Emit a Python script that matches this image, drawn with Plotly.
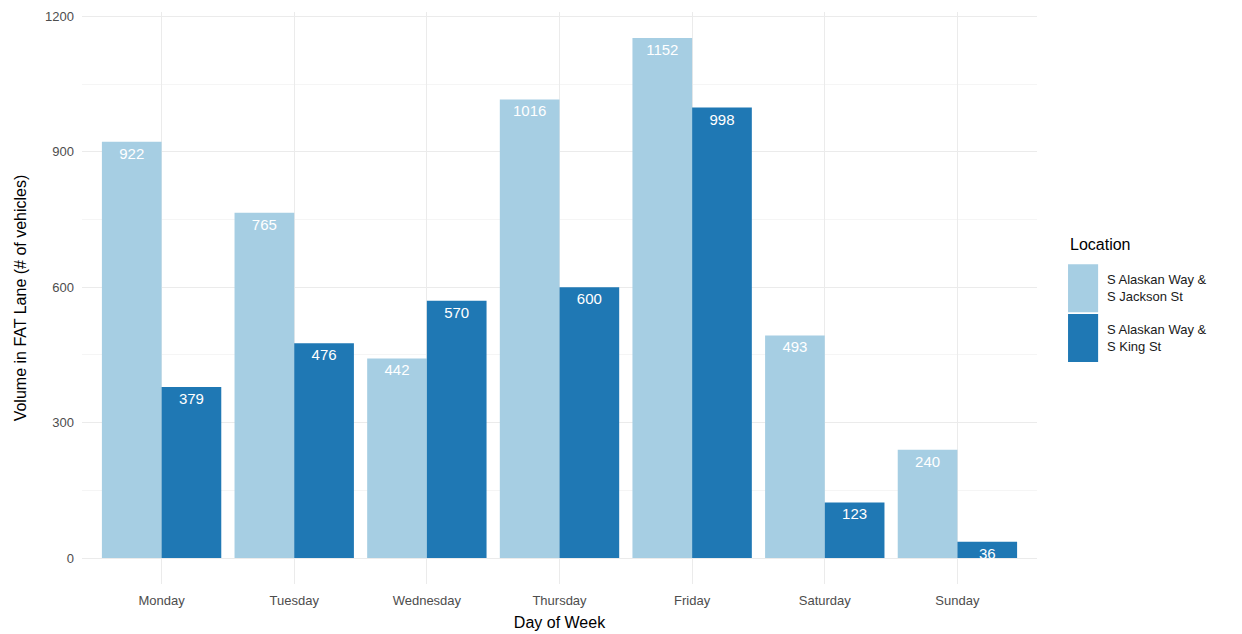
import plotly.graph_objects as go

days = ['Monday', 'Tuesday', 'Wednesday', 'Thursday', 'Friday', 'Saturday', 'Sunday']
jackson = [922, 765, 442, 1016, 1152, 493, 240]
king = [379, 476, 570, 600, 998, 123, 36]
locations = ['S Alaskan Way &<br>S Jackson St', 'S Alaskan Way &<br>S King St']
colors = ['#A6CEE3', '#1F78B4']
y_ticks = [0, 300, 600, 900, 1200]

font = 'Liberation Sans, Arial, Helvetica, sans-serif'

fig = go.Figure()
for name, vals, col in zip(locations, [jackson, king], colors):
    fig.add_trace(go.Bar(x=days,
                         y=vals,
                         name=name,
                         showlegend=False,
                         marker=dict(color=col, line=dict(width=0)),
                         text=[str(v) for v in vals],
                         textposition='inside',
                         insidetextanchor='end',
                         textangle=0,
                         textfont=dict(color='white', size=15, family=font),
                         cliponaxis=True))

# legend drawn by hand so the keys are tall boxes like ggplot's
key_tops = [0.559, 0.472]
for name, col, top in zip(locations, colors, key_tops):
    fig.add_shape(type='rect', xref='paper', yref='paper',
                  x0=1.0325, x1=1.064, y0=top - 0.084, y1=top,
                  fillcolor=col, line=dict(width=0))
    fig.add_annotation(xref='paper', yref='paper', x=1.0715, y=top - 0.042,
                       text=name, showarrow=False, xanchor='left', yanchor='middle',
                       align='left', font=dict(size=13, color='#1A1A1A'))
fig.add_annotation(xref='paper', yref='paper', x=1.0325, y=0.594,
                   text='Location', showarrow=False, xanchor='left', yanchor='middle',
                   font=dict(size=16, color='black'))

# page body has an 8px margin, so the plot area is pulled back by that much
fig.update_layout(barmode='group',
                  bargap=0.1,
                  bargroupgap=0,
                  width=1242,
                  height=634,
                  plot_bgcolor='white',
                  paper_bgcolor='white',
                  font=dict(family=font, color='#4D4D4D', size=13),
                  uniformtext=dict(minsize=15, mode='show'),
                  margin=dict(l=74, r=213, t=4, b=58, autoexpand=False),
                  xaxis=dict(title=dict(text='Day of Week', font=dict(size=16, color='black'), standoff=9),
                             automargin=False,
                             range=[-0.6, 6.6],
                             showgrid=True,
                             gridcolor='#EBEBEB',
                             gridwidth=1.2,
                             zeroline=False,
                             showline=False,
                             ticks='',
                             ticklabelstandoff=7,
                             tickfont=dict(size=13, color='#4D4D4D')),
                  yaxis=dict(title=dict(text='Volume in FAT Lane (# of vehicles)', font=dict(size=16, color='black'), standoff=14),
                             automargin=False,
                             range=[-57.6, 1209.6],
                             tickvals=y_ticks,
                             ticktext=[str(t) for t in y_ticks],
                             showgrid=True,
                             gridcolor='#EBEBEB',
                             gridwidth=1.2,
                             minor=dict(dtick=150, tick0=0, showgrid=True, gridcolor='#F5F5F5', gridwidth=1),
                             zeroline=False,
                             showline=False,
                             ticks='',
                             ticklabelstandoff=7,
                             tickfont=dict(size=13, color='#4D4D4D')))

fig.write_html("out.html")
